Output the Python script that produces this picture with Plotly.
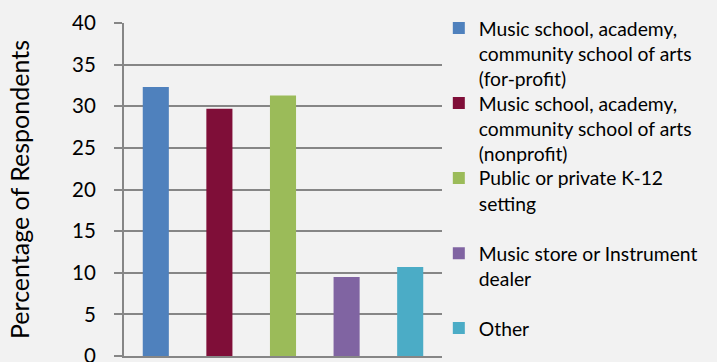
import plotly.graph_objects as go

# Where respondents teach
categories = [
    "Music school, academy, community school of arts (for-profit)",
    "Music school, academy, community school of arts (nonprofit)",
    "Public or private K-12 setting",
    "Music store or Instrument dealer",
    "Other",
]
legend_labels = [
    "Music school, academy,<br>community school of arts<br>(for-profit)",
    "Music school, academy,<br>community school of arts<br>(nonprofit)",
    "Public or private K-12<br>setting",
    "Music store or Instrument<br>dealer",
    "Other",
]
values = [32.3, 29.7, 31.3, 9.5, 10.7]
colors = ["#4f81bd", "#7f0e38", "#9bbb59", "#8064a2", "#4bacc6"]

FONT = "Lato"
GRID = "#868686"

# each legend entry sits in its own legend box so the entries are evenly spaced
legend_names = ["legend", "legend2", "legend3", "legend4", "legend5"]
legend_tops = [1.042, 0.817, 0.592, 0.366, 0.141]

fig = go.Figure()
for cat, lab, val, col, lg in zip(categories, legend_labels, values, colors, legend_names):
    fig.add_trace(go.Bar(
        x=[cat], y=[val], name=lab, width=0.41, legend=lg,
        marker=dict(color=col, line=dict(width=0)),
    ))

legend_style = dict(
    xanchor="left", yanchor="top", valign="top",
    bgcolor="rgba(0,0,0,0)", borderwidth=0,
    font=dict(family=FONT, size=19.3, color="#000000"),
)
layout_legends = {
    lg: dict(x=0.99, y=top, **legend_style)
    for lg, top in zip(legend_names, legend_tops)
}

fig.update_layout(
    width=717, height=362,
    margin=dict(l=124, r=275, t=23, b=6, autoexpand=False),
    paper_bgcolor="#f2f2f2", plot_bgcolor="#f2f2f2",
    barmode="overlay",
    font=dict(family=FONT, size=20, color="#000000"),
    showlegend=True,
    xaxis=dict(
        type="category", categoryorder="array", categoryarray=categories,
        range=[-0.5, 4.5], showticklabels=False, showgrid=False,
        ticks="", showline=True, linecolor=GRID, linewidth=2,
        zeroline=False, fixedrange=True, automargin=False,
    ),
    yaxis=dict(
        range=[0, 40], dtick=5, tick0=0,
        showgrid=True, gridcolor=GRID, gridwidth=2,
        showline=True, linecolor=GRID, linewidth=2,
        ticks="outside", ticklen=8, tickwidth=2, tickcolor=GRID,
        ticklabelstandoff=14, ticklabeloverflow="allow",
        tickfont=dict(family=FONT, size=20.5, color="#000000"),
        zeroline=False, automargin=False,
        title=dict(text="Percentage of Respondents", standoff=35,
                   font=dict(family=FONT, size=25, color="#000000")),
    ),
    **layout_legends,
)

fig.write_html("out.html")
